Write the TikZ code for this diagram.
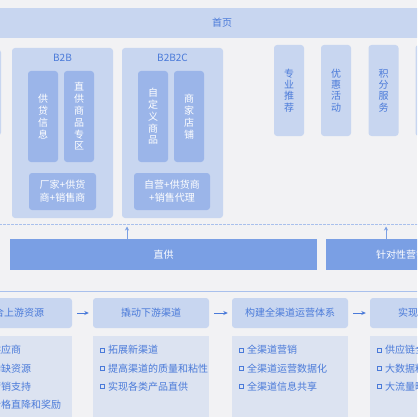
\documentclass[tikz,border=0pt]{standalone}
\usepackage{fontspec}
\setmainfont{Noto Sans CJK SC}
\usetikzlibrary{arrows.meta,positioning}
\definecolor{bggray}{HTML}{F2F2F4}
\definecolor{paleblue}{HTML}{C8D6F0}
\definecolor{midblue}{HTML}{9BB5E9}
\definecolor{deepblue}{HTML}{7A9FE4}
\definecolor{itemfill}{HTML}{DCE3F1}
\definecolor{tblue}{HTML}{4A7AD9}
\definecolor{lineblue}{HTML}{A9C0EC}
\tikzset{
  panel/.style={fill=paleblue, rounded corners=3pt, inner sep=0pt},
  colbox/.style={fill=midblue, rounded corners=3pt, inner sep=0pt, text=white,
    align=center, minimum width=30pt, minimum height=91pt,
    font=\fontsize{10}{11.8}\selectfont},
  mixbox/.style={fill=midblue, rounded corners=3pt, inner sep=0pt, text=white,
    align=center, minimum height=37pt, font=\fontsize{10}{13}\selectfont},
  rcol/.style={panel, text=tblue, align=center, minimum width=30pt,
    minimum height=91pt, font=\fontsize{10}{11.3}\selectfont},
  bar/.style={fill=deepblue, inner sep=0pt, text=white, minimum height=31pt},
  stepbox/.style={panel, text=tblue, minimum width=116pt, minimum height=30pt},
  itembox/.style={fill=itemfill, inner sep=0pt, minimum width=116pt, minimum height=89pt},
  sqbul/.style={draw=tblue, line width=0.6pt, inner sep=0pt, minimum size=4.2pt},
  itemtxt/.style={inner sep=0pt, text=tblue, anchor=west},
  flow/.style={draw=tblue, line width=0.7pt, -{Stealth[length=4.5pt,width=4pt]}},
  up/.style={draw=deepblue, line width=0.9pt, -{Stealth[length=4pt,width=4pt]}},
}
\begin{document}
\begin{tikzpicture}[x=1pt, y=-1pt, font=\fontsize{10}{12}\selectfont]
\useasboundingbox (0,0) rectangle (417,417);
\clip (0,0) rectangle (417,417);
\fill[bggray] (0,0) rectangle (417,417);
% top
\node[panel, minimum width=484pt, minimum height=30pt, text=tblue, rounded corners=0pt] (home) at (222,23) {首页};
\node[panel, minimum width=31pt, minimum height=86pt] (lcol) at (-14.5,92.5) {};
% B2B
\node[panel, minimum width=101pt, minimum height=170pt] (pB2B) at (62.5,133) {};
\node[text=tblue, inner sep=0pt] (tB2B) at (62.5,58) {B2B};
\node[colbox] (gh) at (43,116.5) {供\\贷\\信\\息};
\node[colbox] (zg) at (79,116.5) {直\\供\\商\\品\\专\\区};
\node[mixbox, minimum width=67pt] (mB2B) at (62.5,191.5) {厂家+供货\\商+销售商};
% B2B2C
\node[panel, minimum width=101pt, minimum height=170pt] (pB2B2C) at (172.5,133) {};
\node[text=tblue, inner sep=0pt] (tB2B2C) at (172.5,58) {B2B2C};
\node[colbox] (zdy) at (153,116.5) {自\\定\\义\\商\\品};
\node[colbox] (sj) at (189,116.5) {商\\家\\店\\铺};
\node[mixbox, minimum width=76pt] (mB2B2C) at (172,191.5) {自营+供货商\\+销售代理};
% right columns
\node[rcol] (zy) at (289,90.5) {专\\业\\推\\荐};
\node[rcol] (yh) at (336,90.5) {优\\惠\\活\\动};
\node[rcol] (jf) at (383.5,90.5) {积\\分\\服\\务};
\node[rcol] (rx) at (430.5,90.5) {};
% separators
\draw[lineblue, line width=0.9pt, dash pattern=on 3pt off 1pt] (-5,224) -- (425,224);
\draw[lineblue, line width=0.9pt] (-5,291) -- (425,291);
% bars
\node[bar, minimum width=307pt] (zhigong) at (163.5,254.5) {直供};
\node[bar, minimum width=150pt] (zhendui) at (401,254.5) {针对性营销};
\coordinate (d1) at (127,226.5);
\coordinate (d2) at (386,226.5);
\draw[up] (zhigong.north -| d1) -- (d1);
\draw[up] (zhendui.north -| d2) -- (d2);
% steps
\foreach \i/\x/\t in {1/14/整合上游资源, 2/151/撬动下游渠道, 3/290/构建全渠道运营体系, 4/428/实现精准运营} {
  \node[stepbox] (s\i) at (\x,313) {\t};
  \node[itembox] (b\i) at (\x,380.5) {};
}
\foreach \i/\j in {1/2, 2/3, 3/4}
  \draw[flow] ([xshift=5pt]s\i.east) -- ([xshift=-4pt]s\j.west);
% items
\foreach \t [count=\n] in {优质供应商, 获取稀缺资源, 提供营销支持, 享受价格直降和奖励} {
  \node[sqbul] (q1\n) at (-35,331.7+18.3*\n) {};
  \node[itemtxt, right=3.6pt of q1\n] (t1\n) {\t};
}
\foreach \t [count=\n] in {拓展新渠道, 提高渠道的质量和粘性, 实现各类产品直供} {
  \node[sqbul] (q2\n) at (102,331.7+18.3*\n) {};
  \node[itemtxt, right=3.6pt of q2\n] (t2\n) {\t};
}
\foreach \t [count=\n] in {全渠道营销, 全渠道运营数据化, 全渠道信息共享} {
  \node[sqbul] (q3\n) at (241,331.7+18.3*\n) {};
  \node[itemtxt, right=3.6pt of q3\n] (t3\n) {\t};
}
\foreach \t [count=\n] in {供应链全程赋能, 大数据精准营销, 大流量曝光支持} {
  \node[sqbul] (q4\n) at (379,331.7+18.3*\n) {};
  \node[itemtxt, right=3.6pt of q4\n] (t4\n) {\t};
}
\end{tikzpicture}
\end{document}
